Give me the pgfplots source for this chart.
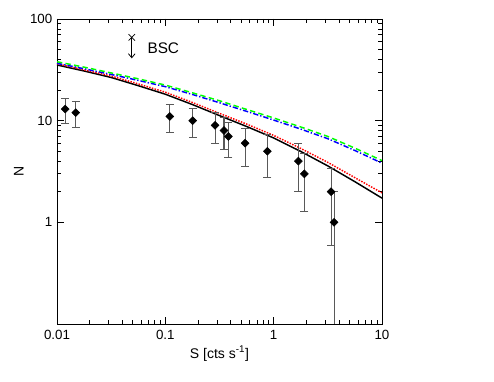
\documentclass[border=0pt]{standalone}
\usepackage{fontspec}
\setmainfont{Liberation Sans}
\usepackage{pgfplots}
\pgfplotsset{compat=1.18}
\usetikzlibrary{arrows.meta}
\begin{document}
\begin{tikzpicture}
\useasboundingbox (-42.75pt,-43.5pt) rectangle (327.75pt,243pt);
\begin{axis}[
  at={(0,0)}, anchor=south west,
  scale only axis, width=243.75pt, height=228.75pt,
  xmode=log, ymode=log,
  xmin=0.01, xmax=10, ymin=0.1, ymax=100,
  xtick={0.01,0.1,1,10}, xticklabels={0.01,0.1,1,10},
  ytick={1,10,100}, yticklabels={1,10,100},
  /pgf/number format/assume math mode=true,
  tick align=inside,
  major tick length=5.5pt, minor tick length=3pt,
  tick style={black, line width=0.5pt},
  axis line style={line width=0.6pt},
  ticklabel style={font=\fontsize{10}{12}\selectfont},
  xticklabel style={yshift=-1pt},
  xlabel={S [cts s\textsuperscript{-1}]},
  ylabel={N},
  label style={font=\fontsize{10.5}{12}\selectfont},
  xlabel style={yshift=2pt},
  ylabel style={yshift=-2pt},
]
% models
\addplot[black, line width=1.1pt] coordinates {
 (0.01,35.3) (0.0178,30.8) (0.0316,26.6) (0.0562,22.1) (0.1,18.2) (0.178,14.4)
 (0.316,11.22) (0.562,8.77) (1,6.76) (1.78,4.98) (3.16,3.59) (5.62,2.51) (10,1.73)};
\addplot[red, line width=1.1pt, densely dotted] coordinates {
 (0.01,36.3) (0.0178,31.6) (0.0316,27.5) (0.0562,23.0) (0.1,19.05) (0.178,15.1)
 (0.316,11.8) (0.562,9.27) (1,7.16) (1.78,5.33) (3.16,3.89) (5.62,2.75) (10,1.95)};
\addplot[blue, line width=1.1pt, dash pattern=on 4pt off 1.5pt on 1pt off 1.5pt] coordinates {
 (0.01,36.7) (0.0178,32.4) (0.0316,28.5) (0.0562,24.9) (0.1,21.6) (0.178,18.1)
 (0.316,15.0) (0.562,12.36) (1,10.14) (1.78,8.26) (3.16,6.65) (5.62,5.09) (10,3.82)};
\addplot[green, line width=1.1pt, dash pattern=on 4pt off 2.5pt] coordinates {
 (0.01,38.0) (0.0178,33.6) (0.0316,29.5) (0.0562,25.8) (0.1,22.4) (0.178,18.8)
 (0.316,15.7) (0.562,12.9) (1,10.64) (1.78,8.67) (3.16,7.00) (5.62,5.37) (10,4.05)};
% data
\addplot[only marks, mark=square*, mark size=2.1pt, mark options={rotate=45, black},
  error bars/.cd, y dir=both, y explicit,
  error bar style={black!65, line width=0.8pt},
  error mark options={rotate=90, black!65, mark size=3pt, line width=0.8pt}]
 table[x=S, y=N, y error plus=ep, y error minus=em] {
 S N ep em
 0.0119 13 3.61 3.61
 0.0149 12 3.46 3.46
 0.110 11 3.32 3.32
 0.179 10 3.16 3.16
 0.288 9 3.0 3.0
 0.348 8 2.83 2.83
 0.382 7 2.65 2.65
 0.545 6 2.45 2.45
 0.875 5 2.24 2.24
 1.69 4 2.0 2.0
 1.92 3 1.73 1.73
 3.39 2 1.41 1.41
 3.61 1 1.0 0.999
 };
% BSC upper limit
\addplot[black, line width=0.6pt, -{Straight Barb[length=3pt,width=5pt]}] coordinates {(0.049,66) (0.049,41)};
\addplot[only marks, mark=x, mark size=3.4pt, black, line width=0.6pt] coordinates {(0.049,66)};
\node[anchor=west, font=\fontsize{11.5}{13}\selectfont] at (axis cs:0.062,52) {BSC};
\end{axis}
\end{tikzpicture}
\end{document}
